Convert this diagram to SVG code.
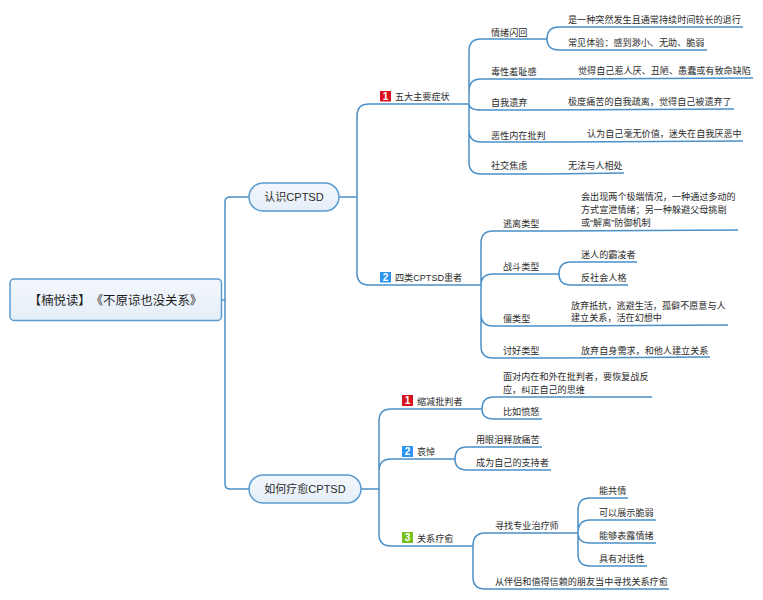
<svg xmlns="http://www.w3.org/2000/svg" width="763" height="600" viewBox="0 0 763 600">
<style>
text{font-family:"Liberation Sans","Noto Sans CJK SC",sans-serif;font-size:9.1px;fill:#2b2b2b;text-spacing-trim:space-all}
.c{fill:none;stroke:#4a90c9;stroke-width:1.5}
.n{fill:url(#g);stroke:#5a9bd2;stroke-width:1.5}
.m{text-anchor:middle}
.b{font-size:11px}
.r{font-size:12.4px;fill:#1c1c1c}
.i{text-anchor:middle;font-weight:bold;fill:#fff;font-size:10px}
</style>
<defs><linearGradient id="g" x1="0" y1="0" x2="0" y2="1"><stop offset="0" stop-color="#f3f7fc"/><stop offset="1" stop-color="#e5eef8"/></linearGradient></defs>
<rect width="763" height="600" fill="#fff"/>
<g id="connectors">
<path class="c" d="M221,300H225M225,202Q225,197 230,197H249M225,484Q225,489 230,489H249M225,202V484"/>
<path class="c" d="M339,197H357M357,116Q357,104 369,104H469M357,273Q357,285 369,285H481M357,116V273"/>
<path class="c" d="M469,51Q469,39 481,39H547M469,91Q469,79 481,79H560L753,78M469,104Q469,110 481,110H547L734,109M469,130Q469,142 481,142H565L743,141M469,162Q469,174 481,174H547L624,173M469,51V162"/>
<path class="c" d="M547,39Q547,27 559,27H743M547,39Q547,50 559,50H707"/>
<path class="c" d="M481,243Q481,231 493,231H560L738,230M481,285Q481,274 493,274H559M481,314Q481,326 493,326H550L728,325M481,346Q481,358 493,358H560L710,357M481,243V346"/>
<path class="c" d="M559,274Q559,262 571,262H637M559,274Q559,285 571,285H628"/>
<path class="c" d="M361,489H379M379,421Q379,409 391,409H482M379,471Q379,459 391,459H455M379,534Q379,546 391,546H473M379,421V534"/>
<path class="c" d="M482,409Q482,397 494,397H652M482,409Q482,419 494,419H542"/>
<path class="c" d="M455,459Q455,447 467,447H542M455,459Q455,470 467,470H551"/>
<path class="c" d="M473,546Q473,533 485,533H578M473,577Q473,589 485,589H669M473,546V577"/>
<path class="c" d="M578,510Q578,498 590,498H628M578,533Q578,520 590,520H656M578,533Q578,543 590,543H656M578,554Q578,566 590,566H647M578,510V554"/>
</g>
<g id="root"><rect class="n" x="10" y="279" width="211.500" height="41.500" rx="4"/><text class="r m" x="115.500" y="305">【楠悦读】《不原谅也没关系》</text></g>
<g id="b1"><rect class="n" x="249" y="183" width="90" height="28" rx="14"/><text class="b m" x="294" y="201">认识CPTSD</text></g>
<g id="b2"><rect class="n" x="249" y="475" width="112" height="28" rx="14"/><text class="b m" x="305" y="493">如何疗愈CPTSD</text></g>
<g id="n1"><rect x="380" y="91" width="11" height="10.500" fill="#d9121f"/><text class="i" x="385.500" y="100">1</text><text x="395" y="100">五大主要症状</text></g>
<g id="n2"><rect x="380" y="272" width="11" height="10.500" fill="#2b95f0"/><text class="i" x="385.500" y="281">2</text><text x="395" y="281">四类CPTSD患者</text></g>
<g id="n3"><rect x="402" y="395" width="11" height="11" fill="#d9121f"/><text class="i" x="407.500" y="404">1</text><text x="417" y="405">缩减批判者</text></g>
<g id="n4"><rect x="402" y="446" width="11" height="11" fill="#2b95f0"/><text class="i" x="407.500" y="455">2</text><text x="417" y="455">哀悼</text></g>
<g id="n5"><rect x="402" y="532" width="11" height="11" fill="#76c01e"/><text class="i" x="407.500" y="541">3</text><text x="417" y="542">关系疗愈</text></g>
<g id="n6"><text x="491" y="36">情绪闪回</text></g>
<g id="n7"><text x="568" y="23">是一种突然发生且通常持续时间较长的退行</text></g>
<g id="n8"><text x="568" y="46">常见体验：感到渺小、无助、脆弱</text></g>
<g id="n9"><text x="491" y="75">毒性羞耻感</text></g>
<g id="n10"><text x="578" y="74">觉得自己惹人厌、丑陋、愚蠢或有致命缺陷</text></g>
<g id="n11"><text x="491" y="106">自我遗弃</text></g>
<g id="n12"><text x="568" y="105">极度痛苦的自我疏离，觉得自己被遗弃了</text></g>
<g id="n13"><text x="491" y="139">恶性内在批判</text></g>
<g id="n14"><text x="587" y="137">认为自己毫无价值，迷失在自我厌恶中</text></g>
<g id="n15"><text x="491" y="169">社交焦虑</text></g>
<g id="n16"><text x="568" y="169">无法与人相处</text></g>
<g id="n17"><text x="503" y="227">逃离类型</text></g>
<g id="n18"><text x="581" y="200">会出现两个极端情况，一种通过多动的</text><text x="581" y="213">方式宣泄情绪；另一种躲避父母挑剔</text><text x="581" y="226">或“解离”防御机制</text></g>
<g id="n19"><text x="503" y="270">战斗类型</text></g>
<g id="n20"><text x="581" y="258">迷人的霸凌者</text></g>
<g id="n21"><text x="581" y="281">反社会人格</text></g>
<g id="n22"><text x="503" y="322">僵类型</text></g>
<g id="n23"><text x="571" y="309">放弃抵抗，逃避生活，孤僻不愿意与人</text><text x="571" y="321">建立关系，活在幻想中</text></g>
<g id="n24"><text x="503" y="354">讨好类型</text></g>
<g id="n25"><text x="581" y="354">放弃自身需求，和他人建立关系</text></g>
<g id="n26"><text x="503" y="380">面对内在和外在批判者，要恢复战反</text><text x="503" y="393">应，纠正自己的思维</text></g>
<g id="n27"><text x="503" y="415">比如愤怒</text></g>
<g id="n28"><text x="476" y="443">用眼泪释放痛苦</text></g>
<g id="n29"><text x="476" y="466">成为自己的支持者</text></g>
<g id="n30"><text x="495" y="529">寻找专业治疗师</text></g>
<g id="n31"><text x="599" y="494">能共情</text></g>
<g id="n32"><text x="599" y="516">可以展示脆弱</text></g>
<g id="n33"><text x="599" y="539">能够表露情绪</text></g>
<g id="n34"><text x="599" y="562">具有对话性</text></g>
<g id="n35"><text x="495" y="585">从伴侣和值得信赖的朋友当中寻找关系疗愈</text></g>
</svg>
